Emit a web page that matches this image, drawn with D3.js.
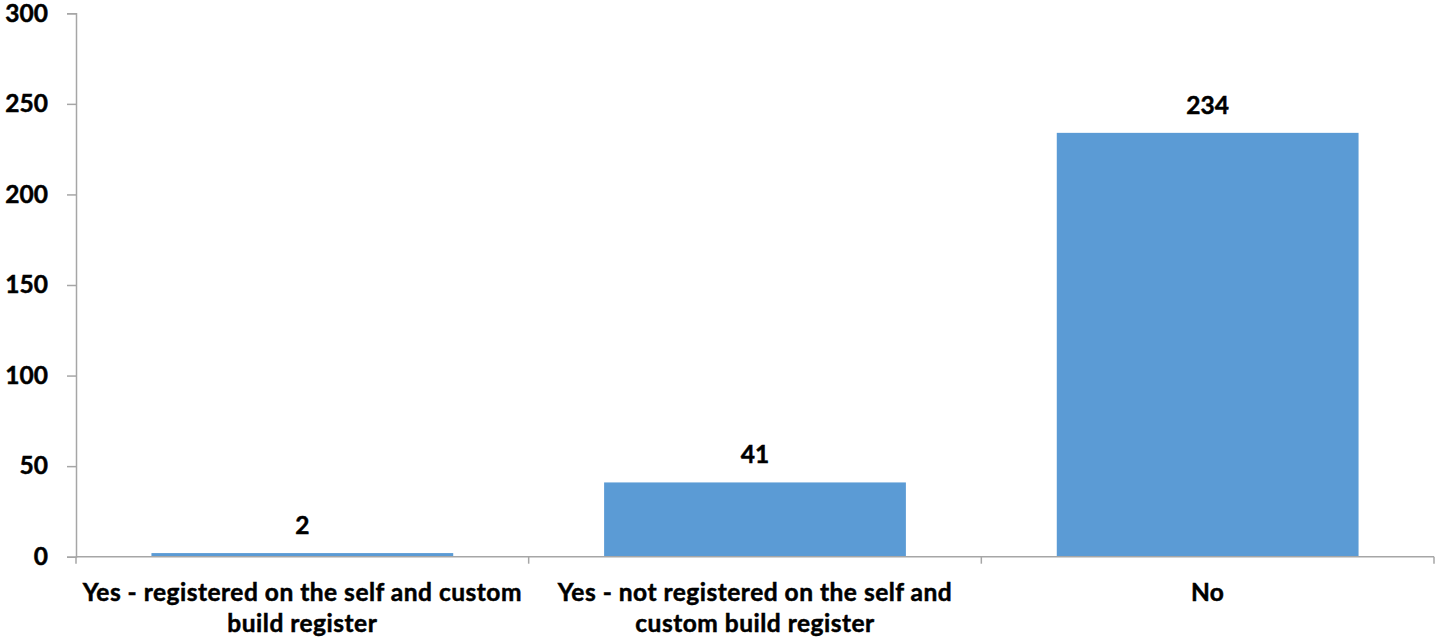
<!DOCTYPE html>
<html><head><meta charset="utf-8">
<script src="https://cdn.jsdelivr.net/npm/d3@7"></script>
<style>
html,body{margin:0;padding:0;background:#fff;}
text{font-family:Lato,"Open Sans",sans-serif;font-weight:700;fill:#000;stroke:#000;stroke-width:0.5px;}
</style></head>
<body>
<svg id="chart" width="1436" height="641"></svg>
<script>
const categories = [
  "Yes - registered on the self and custom\nbuild register",
  "Yes - not registered on the self and\ncustom build register",
  "No"
];
const values = [2, 41, 234];
const yTicks = [0, 50, 100, 150, 200, 250, 300];

(function () {
const svg = d3.select("#chart");
const mLeft = 76, mRight = 1434, mTop = 13.3, mBottom = 556.7;
const fs = 24.5;

const x = d3.scaleBand().domain(categories).range([mLeft, mRight]).paddingInner(1/3).paddingOuter(1/6);
const y = d3.scaleLinear().domain([0, 300]).range([mBottom, mTop]);
const axisColor = "#A6A6A6";

// Y axis
const yAxis = svg.append("g").attr("transform", `translate(${mLeft},0)`)
  .call(d3.axisLeft(y).tickValues(yTicks).tickSize(9).tickPadding(19).tickSizeOuter(9));
yAxis.select(".domain").attr("stroke", axisColor).attr("stroke-width", 1.5);
yAxis.selectAll(".tick line").attr("stroke", axisColor).attr("stroke-width", 1.5);
yAxis.selectAll(".tick text").attr("font-size", fs).attr("font-family", "Lato").attr("font-weight", 700).attr("fill", "#000");

// Bars
svg.append("g").selectAll("rect").data(values).join("rect")
  .attr("x", (d, i) => x(categories[i]))
  .attr("width", x.bandwidth())
  .attr("y", d => y(d))
  .attr("height", d => y(0) - y(d))
  .attr("fill", "#5B9BD5");

// X axis line and ticks (between categories)
const bounds = [mLeft, ...categories.map(c => x(c) + x.bandwidth() + x.step() * x.paddingInner() / 2)];
svg.append("line").attr("x1", mLeft).attr("x2", mRight).attr("y1", y(0)).attr("y2", y(0))
  .attr("stroke", axisColor).attr("stroke-width", 1.5);
svg.append("g").selectAll("line").data(bounds).join("line")
  .attr("x1", d => Math.min(d, mRight)).attr("x2", d => Math.min(d, mRight))
  .attr("y1", y(0)).attr("y2", y(0) + 7)
  .attr("stroke", axisColor).attr("stroke-width", 1.5);

// Value labels
svg.append("g").selectAll("text").data(values).join("text")
  .attr("x", (d, i) => x(categories[i]) + x.bandwidth() / 2)
  .attr("y", d => y(d) - 19)
  .attr("text-anchor", "middle")
  .attr("font-size", fs)
  .text(d => d);

// Category labels
const catG = svg.append("g");
categories.forEach(c => {
  const t = catG.append("text")
    .attr("x", x(c) + x.bandwidth() / 2)
    .attr("y", 601)
    .attr("text-anchor", "middle")
    .attr("font-size", fs)
    .attr("letter-spacing", 0.5);
  c.split("\n").forEach((line, i) => {
    t.append("tspan").attr("x", x(c) + x.bandwidth() / 2).attr("dy", i === 0 ? 0 : 31).text(line);
  });
});
})();
</script>
</body></html>
